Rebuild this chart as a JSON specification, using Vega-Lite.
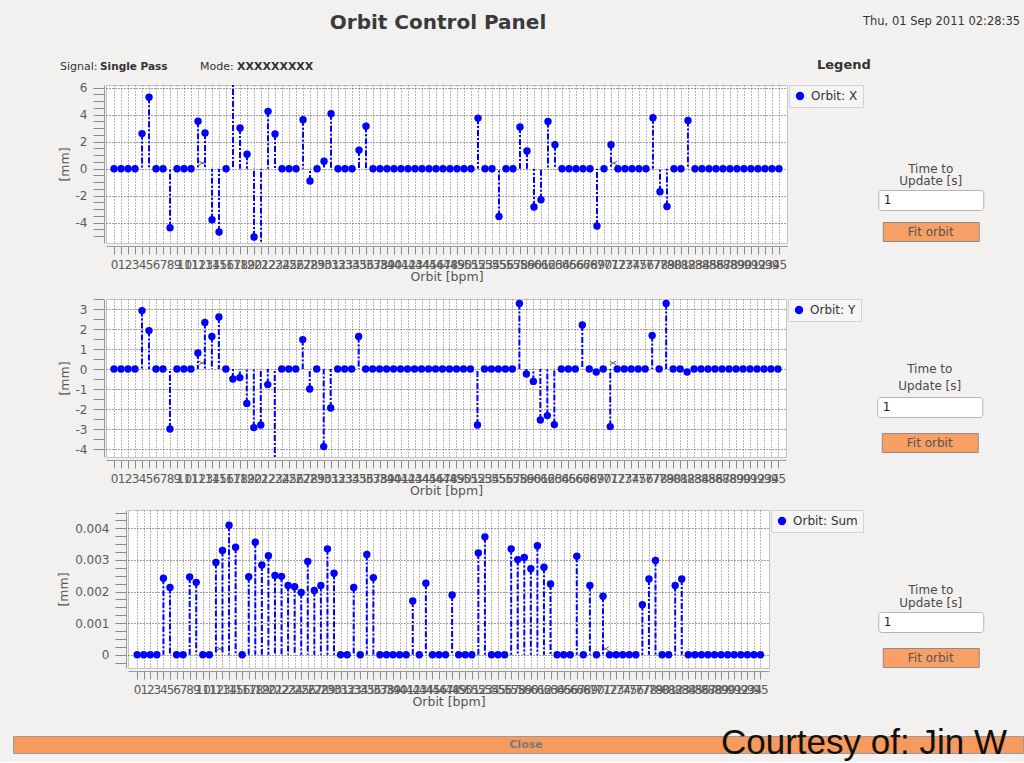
{
"$schema": "https://vega.github.io/schema/vega-lite/v6.json",
"background": "#f2f1f0",
"padding": {"left": 12, "top": 13, "right": 0, "bottom": 0},
"datasets": {
"orbit": [
{"bpm":0,"x":0,"y":0,"sum":0},{"bpm":1,"x":0,"y":0,"sum":0},{"bpm":2,"x":0,"y":0,"sum":0},{"bpm":3,"x":0,"y":0,"sum":0},
{"bpm":4,"x":2.6,"y":2.92,"sum":0.00242},{"bpm":5,"x":5.3,"y":1.92,"sum":0.00213},{"bpm":6,"x":0,"y":0,"sum":0},{"bpm":7,"x":0,"y":0,"sum":0},
{"bpm":8,"x":-4.37,"y":-3.0,"sum":0.00246},{"bpm":9,"x":0,"y":0,"sum":0.00229},{"bpm":10,"x":0,"y":0,"sum":0},{"bpm":11,"x":0,"y":0,"sum":0},
{"bpm":12,"x":3.52,"y":0.8,"sum":0.00292},{"bpm":13,"x":2.64,"y":2.33,"sum":0.0033},{"bpm":14,"x":-3.78,"y":1.63,"sum":0.0041},{"bpm":15,"x":-4.69,"y":2.6,"sum":0.0034},
{"bpm":16,"x":0,"y":0,"sum":0},{"bpm":17,"x":6.8,"y":-0.5,"sum":0.00247},{"bpm":18,"x":3.01,"y":-0.43,"sum":0.00356},{"bpm":19,"x":1.07,"y":-1.72,"sum":0.00284},
{"bpm":20,"x":-5.06,"y":-2.93,"sum":0.00313},{"bpm":21,"x":-6.0,"y":-2.8,"sum":0.00251},{"bpm":22,"x":4.25,"y":-0.78,"sum":0.00248},{"bpm":23,"x":2.57,"y":-4.8,"sum":0.00219},
{"bpm":24,"x":0,"y":0,"sum":0.00215},{"bpm":25,"x":0,"y":0,"sum":0.00197},{"bpm":26,"x":0,"y":0,"sum":0.00295},{"bpm":27,"x":3.63,"y":1.47,"sum":0.00203},
{"bpm":28,"x":-0.91,"y":-1.0,"sum":0.00219},{"bpm":29,"x":0,"y":0,"sum":0.00335},{"bpm":30,"x":0.55,"y":-3.88,"sum":0.00258},{"bpm":31,"x":4.07,"y":-1.95,"sum":0},
{"bpm":32,"x":0,"y":0,"sum":0},{"bpm":33,"x":0,"y":0,"sum":0.00213},{"bpm":34,"x":0,"y":0,"sum":0},{"bpm":35,"x":1.38,"y":1.63,"sum":0.00317},
{"bpm":36,"x":3.14,"y":0,"sum":0.00244},{"bpm":37,"x":0,"y":0,"sum":0},{"bpm":38,"x":0,"y":0,"sum":0},{"bpm":39,"x":0,"y":0,"sum":0},
{"bpm":40,"x":0,"y":0,"sum":0},{"bpm":41,"x":0,"y":0,"sum":0},{"bpm":42,"x":0,"y":0,"sum":0.0017},{"bpm":43,"x":0,"y":0,"sum":0},
{"bpm":44,"x":0,"y":0,"sum":0.00226},{"bpm":45,"x":0,"y":0,"sum":0},{"bpm":46,"x":0,"y":0,"sum":0},{"bpm":47,"x":0,"y":0,"sum":0},
{"bpm":48,"x":0,"y":0,"sum":0.00189},{"bpm":49,"x":0,"y":0,"sum":0},{"bpm":50,"x":0,"y":0,"sum":0},{"bpm":51,"x":0,"y":0,"sum":0},
{"bpm":52,"x":3.75,"y":-2.8,"sum":0.00322},{"bpm":53,"x":0,"y":0,"sum":0.00373},{"bpm":54,"x":0,"y":0,"sum":0},{"bpm":55,"x":-3.53,"y":0,"sum":0},
{"bpm":56,"x":0,"y":0,"sum":0},{"bpm":57,"x":0,"y":0,"sum":0.00335},{"bpm":58,"x":3.09,"y":3.28,"sum":0.00301},{"bpm":59,"x":1.31,"y":-0.25,"sum":0.00308},
{"bpm":60,"x":-2.84,"y":-0.62,"sum":0.00272},{"bpm":61,"x":-2.3,"y":-2.55,"sum":0.00345},{"bpm":62,"x":3.5,"y":-2.33,"sum":0.00277},{"bpm":63,"x":1.78,"y":-2.78,"sum":0.00224},
{"bpm":64,"x":0,"y":0,"sum":0},{"bpm":65,"x":0,"y":0,"sum":0},{"bpm":66,"x":0,"y":0,"sum":0},{"bpm":67,"x":0,"y":2.2,"sum":0.00312},
{"bpm":68,"x":0,"y":0,"sum":0},{"bpm":69,"x":-4.24,"y":-0.15,"sum":0.00219},{"bpm":70,"x":0,"y":0,"sum":0},{"bpm":71,"x":1.78,"y":-2.88,"sum":0.00185},
{"bpm":72,"x":0,"y":0,"sum":0},{"bpm":73,"x":0,"y":0,"sum":0},{"bpm":74,"x":0,"y":0,"sum":0},{"bpm":75,"x":0,"y":0,"sum":0},
{"bpm":76,"x":0,"y":0,"sum":0},{"bpm":77,"x":3.77,"y":1.68,"sum":0.00158},{"bpm":78,"x":-1.7,"y":0,"sum":0.0024},{"bpm":79,"x":-2.8,"y":3.28,"sum":0.00298},
{"bpm":80,"x":0,"y":0,"sum":0},{"bpm":81,"x":0,"y":0,"sum":0},{"bpm":82,"x":3.57,"y":-0.15,"sum":0.00219},{"bpm":83,"x":0,"y":0,"sum":0.0024},
{"bpm":84,"x":0,"y":0,"sum":0},{"bpm":85,"x":0,"y":0,"sum":0},{"bpm":86,"x":0,"y":0,"sum":0},{"bpm":87,"x":0,"y":0,"sum":0},
{"bpm":88,"x":0,"y":0,"sum":0},{"bpm":89,"x":0,"y":0,"sum":0},{"bpm":90,"x":0,"y":0,"sum":0},{"bpm":91,"x":0,"y":0,"sum":0},
{"bpm":92,"x":0,"y":0,"sum":0},{"bpm":93,"x":0,"y":0,"sum":0},{"bpm":94,"x":0,"y":0,"sum":0},{"bpm":95,"x":0,"y":0,"sum":0}
],
"cursor": [
{"bpm":12.6,"x":0.42,"y":0.3,"sum":0.00019},{"bpm":71.4,"x":0.42,"y":0.3,"sum":0.00019}
]
},
"vconcat": [
{"vconcat": [
  {"hconcat": [
    {"width": 850, "height": 1, "title": {"text": "Orbit Control Panel", "anchor": "middle", "fontSize": 20, "fontWeight": "bold", "color": "#3a3a3a", "offset": 4}, "data": {"values": []}, "mark": "point", "encoding": {}},
    {"width": 150, "height": 1, "title": {"text": "Thu, 01 Sep 2011 02:28:35", "anchor": "start", "fontSize": 11.5, "fontWeight": "normal", "color": "#333333", "offset": 10}, "data": {"values": []}, "mark": "point", "encoding": {}}
  ], "spacing": 0, "center": true},
  {"hconcat": [
    {"width": 47, "height": 1, "data": {"values": []}, "mark": "point", "encoding": {}},
    {"width": 40, "height": 1, "title": {"text": "Signal:", "anchor": "start", "fontSize": 11, "fontWeight": "normal", "color": "#333333", "offset": 2}, "data": {"values": []}, "mark": "point", "encoding": {}},
    {"width": 100, "height": 1, "title": {"text": "Single Pass", "anchor": "start", "fontSize": 10.5, "fontWeight": "bold", "color": "#333333", "offset": 2}, "data": {"values": []}, "mark": "point", "encoding": {}},
    {"width": 37, "height": 1, "title": {"text": "Mode:", "anchor": "start", "fontSize": 11, "fontWeight": "normal", "color": "#333333", "offset": 2}, "data": {"values": []}, "mark": "point", "encoding": {}},
    {"width": 580, "height": 1, "title": {"text": "XXXXXXXXX", "anchor": "start", "fontSize": 11, "fontWeight": "bold", "color": "#333333", "offset": 2}, "data": {"values": []}, "mark": "point", "encoding": {}},
    {"width": 60, "height": 1, "title": {"text": "Legend", "anchor": "start", "fontSize": 13, "fontWeight": "bold", "color": "#333333", "offset": 2}, "data": {"values": []}, "mark": "point", "encoding": {}}
  ], "spacing": 0}
], "spacing": 21},
{"vconcat": [
 {"hconcat": [
  {"width": 44, "height": 1, "data": {"values": []}, "mark": "point", "encoding": {}},
  {"width": 681, "height": 158,
   "view": {"fill": "#ffffff", "stroke": "#c4c4c4"},
   "data": {"name": "orbit"},
   "encoding": {
     "x": {"field": "bpm", "type": "quantitative", "scale": {"domain": [-1.15, 96.15], "nice": false, "zero": false},
       "axis": {"values": [0,1,2,3,4,5,6,7,8,9,10,11,12,13,14,15,16,17,18,19,20,21,22,23,24,25,26,27,28,29,30,31,32,33,34,35,36,37,38,39,40,41,42,43,44,45,46,47,48,49,50,51,52,53,54,55,56,57,58,59,60,61,62,63,64,65,66,67,68,69,70,71,72,73,74,75,76,77,78,79,80,81,82,83,84,85,86,87,88,89,90,91,92,93,94,95],
         "title": "Orbit [bpm]", "labelOverlap": false, "labelFlush": false, "labelBound": false, "offset": 3, "tickSize": 8, "tickColor": "#8a8a8a", "domainColor": "#9a9a9a", "labelFontSize": 12, "labelColor": "#5a5a5a", "labelPadding": 5, "grid": true, "gridColor": "#707070", "gridDash": [1, 2], "titleFontSize": 12.5, "titleFontWeight": "normal", "titleColor": "#555555", "titlePadding": 0}},
     "y": {"field": "x", "type": "quantitative", "scale": {"domain": [-5.5, 6.2], "nice": false, "zero": false},
       "axis": {"values": [-5,-4.5,-4,-3.5,-3,-2.5,-2,-1.5,-1,-0.5,0,0.5,1,1.5,2,2.5,3,3.5,4,4.5,5,5.5,6], "title": "[mm]", "labelExpr": "datum.value % 2 === 0 ? '' + datum.value : ''", "labelOverlap": false, "offset": 2, "tickSize": 11, "tickColor": "#8a8a8a", "domainColor": "#9a9a9a", "labelFontSize": 12, "labelColor": "#5a5a5a", "labelPadding": 6, "grid": true, "gridColor": {"condition": {"test": "datum.value % 2 === 0", "value": "#444444"}, "value": "transparent"}, "gridDash": [1, 2], "titleFontSize": 12.5, "titleFontWeight": "normal", "titleColor": "#555555", "titlePadding": 4}}
   },
   "layer": [
     {"mark": {"type": "rule", "color": "#0000ff", "strokeWidth": 2, "strokeDash": [6, 2, 2, 2], "clip": true},
      "encoding": {"y2": {"datum": 0}}},
     {"mark": {"type": "circle", "size": 55, "opacity": 1, "clip": true},
      "encoding": {"color": {"datum": "Orbit: X", "type": "nominal", "scale": {"range": ["#0000ff"]}, "legend": {"title": null, "orient": "right", "offset": 2, "padding": 5, "strokeColor": "#d2d2d2", "fillColor": "#f5f5f5", "symbolType": "circle", "symbolSize": 70, "labelFontSize": 12, "labelColor": "#333333", "labelOffset": 5}}}},
     {"data": {"name": "cursor"}, "mark": {"type": "point", "shape": "M-1,-0.6L1,0.6M-1,0.6L1,-0.6", "size": 40, "filled": false, "color": "#222222", "strokeWidth": 1}, "encoding": {}}
   ]},
  {"width": 13, "height": 1, "data": {"values": []}, "mark": "point", "encoding": {}},
  {"vconcat": [
    {"width": 1, "height": 67, "data": {"values": []}, "mark": "point", "encoding": {}},
    {"width": 105, "height": 20, "view": {"fill": "#ffffff", "stroke": "#b4b4b4", "cornerRadius": 3}, "title": {"text": ["Time to", "Update [s]"], "anchor": "middle", "fontSize": 12, "fontWeight": "normal", "color": "#4a4a4a", "lineHeight": 12.5, "offset": 2}, "data": {"values": [{"v": "1"}]}, "mark": {"type": "text", "align": "left", "dx": -47, "fontSize": 12, "color": "#222222"}, "encoding": {"text": {"field": "v", "type": "nominal"}}},
    {"width": 96, "height": 19, "view": {"fill": "#f79f64", "stroke": "#8c8c8c"}, "data": {"values": [{"label": "Fit orbit"}]}, "mark": {"type": "text", "fontSize": 12, "color": "#555555"}, "encoding": {"text": {"field": "label", "type": "nominal"}}}
  ], "spacing": 10, "center": true}
 ], "spacing": 0, "resolve": {"scale": {"color": "independent"}, "legend": {"color": "independent"}}},
 {"hconcat": [
  {"width": 44, "height": 1, "data": {"values": []}, "mark": "point", "encoding": {}},
  {"width": 680, "height": 158,
   "view": {"fill": "#ffffff", "stroke": "#c4c4c4"},
   "data": {"name": "orbit"},
   "encoding": {
     "x": {"field": "bpm", "type": "quantitative", "scale": {"domain": [-1.15, 96.15], "nice": false, "zero": false},
       "axis": {"values": [0,1,2,3,4,5,6,7,8,9,10,11,12,13,14,15,16,17,18,19,20,21,22,23,24,25,26,27,28,29,30,31,32,33,34,35,36,37,38,39,40,41,42,43,44,45,46,47,48,49,50,51,52,53,54,55,56,57,58,59,60,61,62,63,64,65,66,67,68,69,70,71,72,73,74,75,76,77,78,79,80,81,82,83,84,85,86,87,88,89,90,91,92,93,94,95],
         "title": "Orbit [bpm]", "labelOverlap": false, "labelFlush": false, "labelBound": false, "offset": 3, "tickSize": 8, "tickColor": "#8a8a8a", "domainColor": "#9a9a9a", "labelFontSize": 12, "labelColor": "#5a5a5a", "labelPadding": 5, "grid": true, "gridColor": "#707070", "gridDash": [1, 2], "titleFontSize": 12.5, "titleFontWeight": "normal", "titleColor": "#555555", "titlePadding": 0}},
     "y": {"field": "y", "type": "quantitative", "scale": {"domain": [-4.4, 3.5], "nice": false, "zero": false},
       "axis": {"values": [-4,-3.5,-3,-2.5,-2,-1.5,-1,-0.5,0,0.5,1,1.5,2,2.5,3,3.5], "title": "[mm]", "labelExpr": "datum.value % 1 === 0 ? '' + datum.value : ''", "labelOverlap": false, "offset": 2, "tickSize": 11, "tickColor": "#8a8a8a", "domainColor": "#9a9a9a", "labelFontSize": 12, "labelColor": "#5a5a5a", "labelPadding": 6, "grid": true, "gridColor": {"condition": {"test": "datum.value % 1 === 0", "value": "#444444"}, "value": "transparent"}, "gridDash": [1, 2], "titleFontSize": 12.5, "titleFontWeight": "normal", "titleColor": "#555555", "titlePadding": 4}}
   },
   "layer": [
     {"mark": {"type": "rule", "color": "#0000ff", "strokeWidth": 2, "strokeDash": [6, 2, 2, 2], "clip": true},
      "encoding": {"y2": {"datum": 0}}},
     {"mark": {"type": "circle", "size": 55, "opacity": 1, "clip": true},
      "encoding": {"color": {"datum": "Orbit: Y", "type": "nominal", "scale": {"range": ["#0000ff"]}, "legend": {"title": null, "orient": "right", "offset": 2, "padding": 5, "strokeColor": "#d2d2d2", "fillColor": "#f5f5f5", "symbolType": "circle", "symbolSize": 70, "labelFontSize": 12, "labelColor": "#333333", "labelOffset": 5}}}},
     {"data": {"name": "cursor"}, "mark": {"type": "point", "shape": "M-1,-0.6L1,0.6M-1,0.6L1,-0.6", "size": 40, "filled": false, "color": "#222222", "strokeWidth": 1}, "encoding": {}}
   ]},
  {"width": 14, "height": 1, "data": {"values": []}, "mark": "point", "encoding": {}},
  {"vconcat": [
    {"width": 1, "height": 49, "data": {"values": []}, "mark": "point", "encoding": {}},
    {"width": 105, "height": 20, "view": {"fill": "#ffffff", "stroke": "#b4b4b4", "cornerRadius": 3}, "title": {"text": ["Time to", "Update [s]"], "anchor": "middle", "fontSize": 12, "fontWeight": "normal", "color": "#4a4a4a", "lineHeight": 17, "offset": 4}, "data": {"values": [{"v": "1"}]}, "mark": {"type": "text", "align": "left", "dx": -47, "fontSize": 12, "color": "#222222"}, "encoding": {"text": {"field": "v", "type": "nominal"}}},
    {"width": 96, "height": 19, "view": {"fill": "#f79f64", "stroke": "#8c8c8c"}, "data": {"values": [{"label": "Fit orbit"}]}, "mark": {"type": "text", "fontSize": 12, "color": "#555555"}, "encoding": {"text": {"field": "label", "type": "nominal"}}}
  ], "spacing": 14, "center": true}
 ], "spacing": 0, "resolve": {"scale": {"color": "independent"}, "legend": {"color": "independent"}}},
 {"hconcat": [
  {"width": 44, "height": 1, "data": {"values": []}, "mark": "point", "encoding": {}},
  {"width": 641, "height": 158,
   "view": {"fill": "#ffffff", "stroke": "#c4c4c4"},
   "data": {"name": "orbit"},
   "encoding": {
     "x": {"field": "bpm", "type": "quantitative", "scale": {"domain": [-1.4, 96.3], "nice": false, "zero": false},
       "axis": {"values": [0,1,2,3,4,5,6,7,8,9,10,11,12,13,14,15,16,17,18,19,20,21,22,23,24,25,26,27,28,29,30,31,32,33,34,35,36,37,38,39,40,41,42,43,44,45,46,47,48,49,50,51,52,53,54,55,56,57,58,59,60,61,62,63,64,65,66,67,68,69,70,71,72,73,74,75,76,77,78,79,80,81,82,83,84,85,86,87,88,89,90,91,92,93,94,95],
         "title": "Orbit [bpm]", "labelOverlap": false, "labelFlush": false, "labelBound": false, "offset": 3, "tickSize": 8, "tickColor": "#8a8a8a", "domainColor": "#9a9a9a", "labelFontSize": 12, "labelColor": "#5a5a5a", "labelPadding": 5, "grid": true, "gridColor": "#707070", "gridDash": [1, 2], "titleFontSize": 12.5, "titleFontWeight": "normal", "titleColor": "#555555", "titlePadding": 0}},
     "y": {"field": "sum", "type": "quantitative", "scale": {"domain": [-0.00042, 0.00458], "nice": false, "zero": false},
       "axis": {"values": [-0.00025,0,0.00025,0.0005,0.00075,0.001,0.00125,0.0015,0.00175,0.002,0.00225,0.0025,0.00275,0.003,0.00325,0.0035,0.00375,0.004,0.00425,0.0045], "title": "[mm]", "labelExpr": "(abs(datum.value * 1000 - round(datum.value * 1000)) < 0.000001 && datum.value >= 0) ? format(datum.value, '~g') : ''", "labelOverlap": false, "offset": 2, "tickSize": 11, "tickColor": "#8a8a8a", "domainColor": "#9a9a9a", "labelFontSize": 12, "labelColor": "#5a5a5a", "labelPadding": 6, "grid": true, "gridColor": {"condition": {"test": "abs(datum.value * 1000 - round(datum.value * 1000)) < 0.000001", "value": "#444444"}, "value": "transparent"}, "gridDash": [1, 2], "titleFontSize": 12.5, "titleFontWeight": "normal", "titleColor": "#555555", "titlePadding": 4}}
   },
   "layer": [
     {"mark": {"type": "rule", "color": "#0000ff", "strokeWidth": 2, "strokeDash": [6, 2, 2, 2], "clip": true},
      "encoding": {"y2": {"datum": 0}}},
     {"mark": {"type": "circle", "size": 55, "opacity": 1, "clip": true},
      "encoding": {"color": {"datum": "Orbit: Sum", "type": "nominal", "scale": {"range": ["#0000ff"]}, "legend": {"title": null, "orient": "right", "offset": 2, "padding": 5, "strokeColor": "#d2d2d2", "fillColor": "#f5f5f5", "symbolType": "circle", "symbolSize": 70, "labelFontSize": 12, "labelColor": "#333333", "labelOffset": 5}}}},
     {"data": {"name": "cursor"}, "mark": {"type": "point", "shape": "M-1,-0.6L1,0.6M-1,0.6L1,-0.6", "size": 40, "filled": false, "color": "#222222", "strokeWidth": 1}, "encoding": {}}
   ]},
  {"width": 13, "height": 1, "data": {"values": []}, "mark": "point", "encoding": {}},
  {"vconcat": [
    {"width": 1, "height": 59, "data": {"values": []}, "mark": "point", "encoding": {}},
    {"width": 105, "height": 20, "view": {"fill": "#ffffff", "stroke": "#b4b4b4", "cornerRadius": 3}, "title": {"text": ["Time to", "Update [s]"], "anchor": "middle", "fontSize": 12, "fontWeight": "normal", "color": "#4a4a4a", "lineHeight": 13, "offset": 2}, "data": {"values": [{"v": "1"}]}, "mark": {"type": "text", "align": "left", "dx": -47, "fontSize": 12, "color": "#222222"}, "encoding": {"text": {"field": "v", "type": "nominal"}}},
    {"width": 96, "height": 19, "view": {"fill": "#f79f64", "stroke": "#8c8c8c"}, "data": {"values": [{"label": "Fit orbit"}]}, "mark": {"type": "text", "fontSize": 12, "color": "#555555"}, "encoding": {"text": {"field": "label", "type": "nominal"}}}
  ], "spacing": 14, "center": true}
 ], "spacing": 0, "resolve": {"scale": {"color": "independent"}, "legend": {"color": "independent"}}}
], "spacing": 9, "resolve": {"scale": {"color": "independent"}, "legend": {"color": "independent"}}},
{"vconcat": [
  {"width": 1, "height": 11, "data": {"values": []}, "mark": "point", "encoding": {}},
  {"width": 1010, "height": 17, "view": {"fill": "#f79a5e", "stroke": "#9a9a9a"},
   "data": {"values": [{"label": "Close", "credit": "Courtesy of: Jin W"}]},
   "layer": [
     {"mark": {"type": "text", "fontSize": 11, "fontWeight": "bold", "color": "#7a7a7a", "dx": 8}, "encoding": {"text": {"field": "label", "type": "nominal"}}},
     {"mark": {"type": "text", "fontSize": 35, "font": "Liberation Sans", "color": "#111111", "align": "left", "dx": 203, "dy": -1.5}, "encoding": {"text": {"field": "credit", "type": "nominal"}}}
   ]}
], "spacing": 0}
],
"spacing": 6,
"resolve": {"scale": {"color": "independent"}, "legend": {"color": "independent"}},
"config": {
  "font": "DejaVu Sans",
  "view": {"stroke": null},
  "title": {"font": "DejaVu Sans"},
  "axis": {"labelFont": "DejaVu Sans", "titleFont": "DejaVu Sans"},
  "legend": {"labelFont": "DejaVu Sans"}
}
}
